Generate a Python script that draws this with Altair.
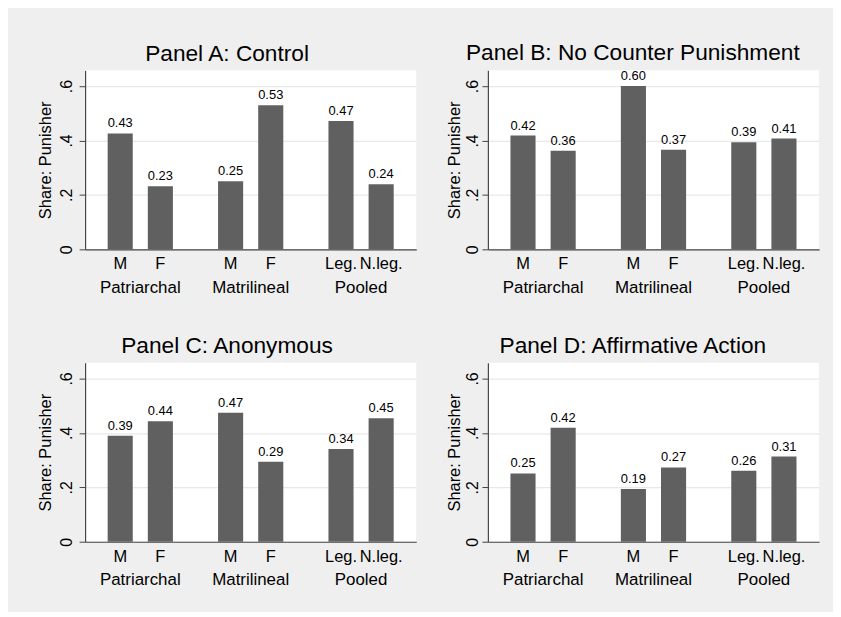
import altair as alt
import pandas as pd

groups = ["Patriarchal", "Patriarchal", "Matrilineal", "Matrilineal", "Pooled", "Pooled"]
group_order = ["Patriarchal", "Matrilineal", "Pooled"]
subs = ["M", "F", "M", "F", "Leg.", "N.leg."]
slots = ["1", "2", "1", "2", "1", "2"]

titles = ["Panel A: Control", "Panel B: No Counter Punishment",
          "Panel C: Anonymous", "Panel D: Affirmative Action"]
values_a = [0.426, 0.232, 0.250, 0.530, 0.472, 0.239]
values_b = [0.418, 0.362, 0.600, 0.366, 0.394, 0.407]
values_c = [0.390, 0.443, 0.474, 0.294, 0.341, 0.454]
values_d = [0.251, 0.419, 0.194, 0.273, 0.261, 0.313]
y_ticks = [0, 0.2, 0.4, 0.6]

W, H = 333, 180
FONT = "Liberation Sans"
BAR = "#606060"
AXIS = "#444444"


def panel(title, vals, left_side):
    df = pd.DataFrame({"group": groups, "sub": subs, "slot": slots, "value": vals})
    base = alt.Chart(df)
    x = alt.X("group:N", sort=group_order,
              scale=alt.Scale(paddingInner=0, paddingOuter=0),
              axis=alt.Axis(title=None, ticks=False, labelPadding=30,
                            labelFontSize=17, labelFont=FONT, labelColor="#000000",
                            domainColor=AXIS, domainWidth=1.2, labelAngle=0))
    xo = alt.XOffset("slot:N", scale=alt.Scale(paddingInner=0.375, paddingOuter=0.5625))
    y = alt.Y("value:Q", scale=alt.Scale(domain=[0, 0.658], nice=False, zero=True),
              axis=alt.Axis(title="Share: Punisher", values=y_ticks,
                            labelExpr="datum.value == 0 ? '0' : '.' + round(datum.value * 10)",
                            labelAngle=270, labelFontSize=16, labelFont=FONT,
                            labelColor="#000000", labelPadding=5 if left_side else 1.5,
                            tickSize=6, tickColor=AXIS, domainColor=AXIS, domainWidth=1.2,
                            titleFont=FONT, titleFontSize=16.5, titleFontWeight="normal",
                            titleColor="#000000", titlePadding=4.5 if left_side else 2,
                            grid=True, gridColor="#e8e8e8", gridWidth=1.2))
    bars = base.mark_bar(color=BAR).encode(x=x, xOffset=xo, y=y)
    vlabels = base.mark_text(baseline="bottom", dy=-3, fontSize=13, font=FONT,
                             color="#000000").encode(
        x=x, xOffset=xo, y="value:Q", text=alt.Text("value:Q", format=".2f"))
    sublabels = base.mark_text(baseline="top", fontSize=16.5, font=FONT,
                               color="#000000").encode(
        x=x, xOffset=xo, y=alt.value(H + 7), text="sub:N")
    return alt.layer(bars, vlabels, sublabels).properties(
        width=W, height=H,
        title=alt.TitleParams(title, fontSize=22.8, font=FONT, fontWeight="normal",
                              color="#000000", anchor="middle", frame="bounds",
                              baseline="alphabetic", offset=-13))


charts = [panel(titles[0], values_a, True), panel(titles[1], values_b, False),
          panel(titles[2], values_c, True), panel(titles[3], values_d, False)]

chart = alt.concat(*charts, columns=2).properties(
    spacing={"row": 114, "column": 72}, bounds="flush",
    background="#efefef",
    padding={"left": 29.5, "top": 33, "right": 14, "bottom": 23},
).configure_view(fill="white", stroke=None)

chart.save("out.html", embed_options={"renderer": "svg", "actions": False})
